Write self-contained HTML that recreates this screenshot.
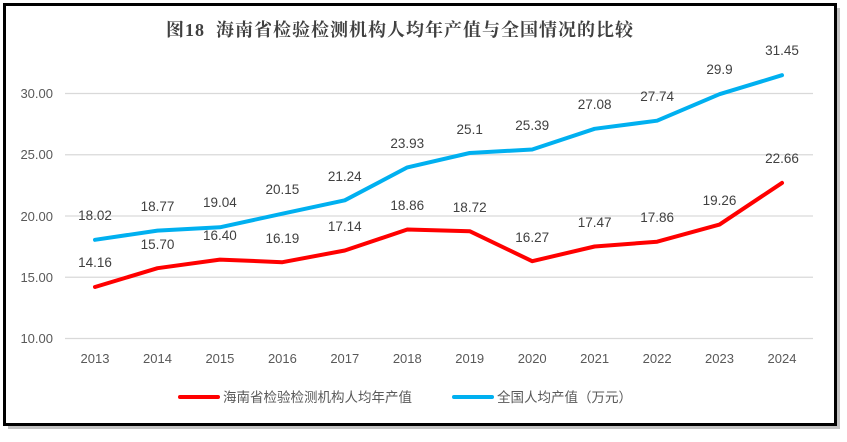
<!DOCTYPE html>
<html><head><meta charset="utf-8"><style>
body{margin:0;width:847px;height:437px;background:#fff;overflow:hidden}
</style></head><body>
<svg width="847" height="437" xmlns="http://www.w3.org/2000/svg" font-family="Liberation Sans, Noto Sans CJK SC, sans-serif">
<rect x="8" y="8" width="832" height="421" fill="#999" opacity="0.6"/>
<rect x="4.5" y="4.5" width="831" height="420" fill="#fff" stroke="#000" stroke-width="3"/>
<text x="166" y="36" font-size="18" font-weight="bold" fill="#404040" font-family="Liberation Serif, Noto Serif CJK SC, serif" letter-spacing="1">图18<tspan x="216">海南省检验检测机构人均年产值与全国情况的比较</tspan></text>
<g stroke="#d9d9d9" stroke-width="1.3">
<line x1="65" x2="813" y1="93.5" y2="93.5"/><line x1="65" x2="813" y1="154.75" y2="154.75"/>
<line x1="65" x2="813" y1="216" y2="216"/><line x1="65" x2="813" y1="277.25" y2="277.25"/>
<line x1="65" x2="813" y1="338.5" y2="338.5"/></g>
<g font-size="13" fill="#595959" text-anchor="end">
<text x="53" y="98">30.00</text><text x="53" y="159">25.00</text><text x="53" y="221">20.00</text><text x="53" y="282">15.00</text><text x="53" y="343">10.00</text></g>
<g font-size="13" fill="#595959" text-anchor="middle">
<text x="95" y="363">2013</text><text x="157.5" y="363">2014</text><text x="219.9" y="363">2015</text><text x="282.4" y="363">2016</text><text x="344.8" y="363">2017</text><text x="407.3" y="363">2018</text><text x="469.7" y="363">2019</text><text x="532.2" y="363">2020</text><text x="594.6" y="363">2021</text><text x="657.1" y="363">2022</text><text x="719.5" y="363">2023</text><text x="782" y="363">2024</text></g>
<polyline fill="none" stroke="#00b0f0" stroke-width="4" stroke-linejoin="round" stroke-linecap="round" points="95,239.8 157.5,230.6 219.9,227.3 282.4,213.7 344.8,200.3 407.3,167.4 469.7,153 532.2,149.5 594.6,128.8 657.1,120.7 719.5,94.2 782,75.2"/>
<polyline fill="none" stroke="#ff0000" stroke-width="4" stroke-linejoin="round" stroke-linecap="round" points="95,287 157.5,268.2 219.9,259.6 282.4,262.2 344.8,250.5 407.3,229.5 469.7,231.2 532.2,261.2 594.6,246.5 657.1,241.7 719.5,224.6 782,182.9"/>
<g font-size="13.5" fill="#404040" text-anchor="middle">
<text x="95" y="220">18.02</text><text x="157.5" y="211">18.77</text><text x="219.9" y="207">19.04</text><text x="282.4" y="194">20.15</text><text x="344.8" y="181">21.24</text><text x="407.3" y="148">23.93</text><text x="469.7" y="134">25.1</text><text x="532.2" y="130">25.39</text><text x="594.6" y="109">27.08</text><text x="657.1" y="101">27.74</text><text x="719.5" y="74">29.9</text><text x="782" y="55">31.45</text>
<text x="95" y="267">14.16</text><text x="157.5" y="249">15.70</text><text x="219.9" y="240">16.40</text><text x="282.4" y="243">16.19</text><text x="344.8" y="231">17.14</text><text x="407.3" y="210">18.86</text><text x="469.7" y="212">18.72</text><text x="532.2" y="242">16.27</text><text x="594.6" y="227">17.47</text><text x="657.1" y="222">17.86</text><text x="719.5" y="205">19.26</text><text x="782" y="163">22.66</text></g>
<line x1="180" x2="218" y1="397" y2="397" stroke="#ff0000" stroke-width="4" stroke-linecap="round"/>
<text x="223" y="402" font-size="13.5" fill="#595959">海南省检验检测机构人均年产值</text>
<line x1="454" x2="492" y1="397" y2="397" stroke="#00b0f0" stroke-width="4" stroke-linecap="round"/>
<text x="497" y="402" font-size="13.5" fill="#595959">全国人均产值（万元）</text>
</svg>
</body></html>
